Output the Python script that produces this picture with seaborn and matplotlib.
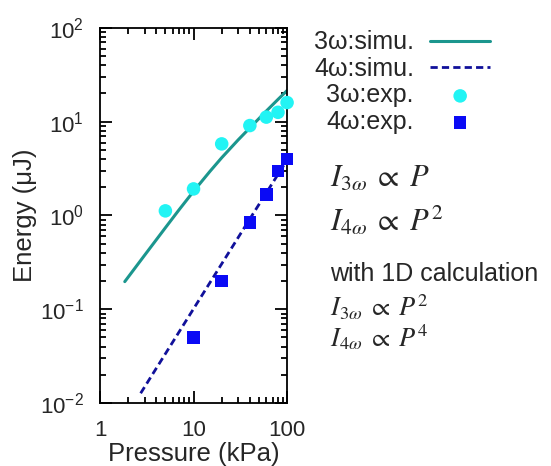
import matplotlib
matplotlib.use("Agg")
import matplotlib.pyplot as plt
import matplotlib.ticker as mticker
import seaborn as sns
import pandas as pd

# Simulated harmonic energy vs. gas pressure
sim3_pressure = [1.84, 3, 5, 7, 10, 15, 20, 30, 40, 60, 80, 100]
sim3_energy = [0.197, 0.377, 0.74, 1.15, 1.81, 2.96, 4.13, 6.4, 8.6, 13.0, 17.3, 21.5]
sim4_pressure = [2.72, 10.0, 40.0, 100.0]
sim4_energy = [0.0127, 0.101, 0.92, 3.9]

# Measured harmonic energy
exp3_pressure = [5, 10, 20, 40, 60, 80, 100]
exp3_energy = [1.12, 1.92, 5.8, 9.1, 11.2, 12.6, 16.0]
exp4_pressure = [10, 20, 40, 60, 80, 100]
exp4_energy = [0.05, 0.2, 0.84, 1.68, 3.0, 4.0]

x_ticks = [1, 10, 100]
x_tick_labels = ["1", "10", "100"]
y_ticks = [0.01, 0.1, 1, 10, 100]
y_tick_labels = [r"$\mathdefault{10^{-2}}$", r"$\mathdefault{10^{-1}}$",
                 r"$\mathdefault{10^{0}}$", r"$\mathdefault{10^{1}}$",
                 r"$\mathdefault{10^{2}}$"]

sns.set_theme(style="ticks")
plt.rcParams["font.family"] = ["Liberation Sans", "DejaVu Sans"]
plt.rcParams["axes.unicode_minus"] = False

fig = plt.figure(figsize=(5.51, 4.66), dpi=100)
ax = fig.add_axes([0.1815, 0.1352, 0.3395, 0.8048])

sim3 = pd.DataFrame({"P": sim3_pressure, "E": sim3_energy})
sim4 = pd.DataFrame({"P": sim4_pressure, "E": sim4_energy})
exp3 = pd.DataFrame({"P": exp3_pressure, "E": exp3_energy})
exp4 = pd.DataFrame({"P": exp4_pressure, "E": exp4_energy})

teal = "#1b968e"
navy = "#10109a"

sns.lineplot(data=sim3, x="P", y="E", ax=ax, color=teal, lw=2.2,
             sort=False, label="3\u03c9:simu.")
sns.lineplot(data=sim4, x="P", y="E", ax=ax, color=navy, lw=2.0,
             sort=False, label="4\u03c9:simu.", dashes=False)
ax.lines[-1].set_dashes([2.6, 1.5])
sns.scatterplot(data=exp3, x="P", y="E", ax=ax, color="#22f4f4", s=95,
                marker="o", edgecolor="none", label="3\u03c9:exp.",
                zorder=3, clip_on=False)
sns.scatterplot(data=exp4, x="P", y="E", ax=ax, color="#0a0af5", s=80,
                marker="s", edgecolor="none", label="4\u03c9:exp.",
                zorder=3, clip_on=False)

ax.set_xscale("log")
ax.set_yscale("log")
ax.set_xlim(1, 100)
ax.set_ylim(0.01, 100)
ax.set_xticks(x_ticks)
ax.set_xticklabels(x_tick_labels)
ax.set_yticks(y_ticks)
ax.set_yticklabels(y_tick_labels)
ax.xaxis.set_minor_locator(mticker.LogLocator(base=10, subs=range(2, 10)))
ax.yaxis.set_minor_locator(mticker.LogLocator(base=10, subs=range(2, 10)))
ax.xaxis.set_minor_formatter(mticker.NullFormatter())
ax.yaxis.set_minor_formatter(mticker.NullFormatter())

ax.tick_params(which="both", direction="in", top=True, right=True,
               color="black", width=1.3)
ax.tick_params(which="major", length=8.5, labelsize=16)
ax.tick_params(axis="x", which="major", pad=12)
ax.tick_params(axis="y", which="major", pad=11.5)
ax.tick_params(which="minor", length=4.5)
for s in ax.spines.values():
    s.set_linewidth(1.3)
    s.set_color("black")

ax.set_xlabel("Pressure (kPa)", fontsize=18.5, labelpad=1)
ax.set_ylabel("Energy (\u03bcJ)", fontsize=18.5, labelpad=2)

leg = ax.legend(loc="upper left", bbox_to_anchor=(1.09, 1.02), frameon=False,
                markerfirst=False, fontsize=18, handlelength=2.4,
                handletextpad=0.65, labelspacing=0.1, borderaxespad=0.0)

fig.text(0.599, 0.60, r"$I_{3\omega}\;\propto\;P$", fontsize=22,
         math_fontfamily="stix")
fig.text(0.599, 0.505, r"$I_{4\omega}\;\propto\;P^{2}$", fontsize=22,
         math_fontfamily="stix")
fig.text(0.599, 0.396, "with 1D calculation", fontsize=18)
fig.text(0.599, 0.322, r"$I_{3\omega}\;\propto\;P^{2}$", fontsize=19,
         math_fontfamily="stix")
fig.text(0.599, 0.257, r"$I_{4\omega}\;\propto\;P^{4}$", fontsize=19,
         math_fontfamily="stix")

fig.savefig("out.png", dpi=100)
